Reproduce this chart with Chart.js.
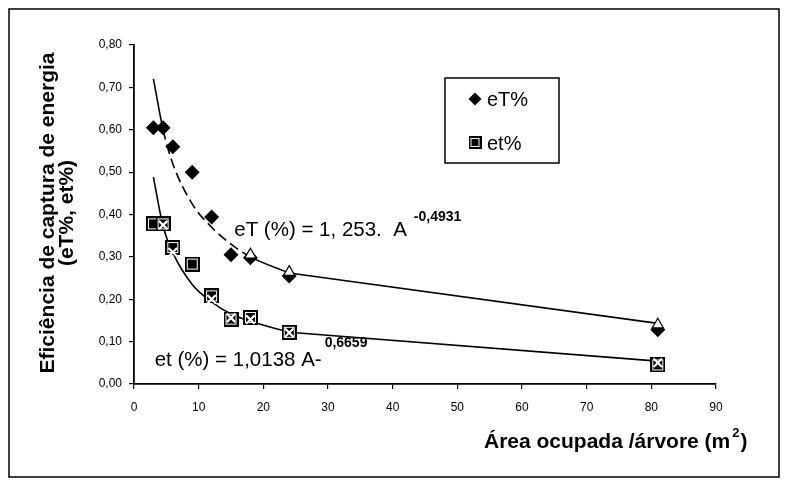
<!DOCTYPE html>
<html>
<head>
<meta charset="utf-8">
<script src="https://cdn.jsdelivr.net/npm/chart.js@4.4.1/dist/chart.umd.min.js"></script>
<style>
  html, body { margin: 0; padding: 0; background: #fff; }
  #chart { display: block; }
</style>
</head>
<body>
<canvas id="chart" width="788" height="486"></canvas>
<script>
// area per tree (m2)
var areas = [3, 4.5, 6, 9, 12, 15, 18, 24, 81];
// measured values
var eT_obs = [0.605, 0.605, 0.56, 0.50, 0.394, 0.305, 0.298, 0.255, 0.128];
var et_obs = [0.378, 0.378, 0.322, 0.283, 0.208, 0.153, 0.157, 0.122, 0.045];
// fitted curves
var eT_fit = [0.72, 0.60, 0.52, 0.425, 0.37, 0.33, 0.30, 0.262, 0.143];
var et_fit = [0.488, 0.372, 0.31, 0.235, 0.194, 0.165, 0.148, 0.122, 0.054];
// open markers on the fitted curves
var eT_markX = [18, 24, 81];
var eT_markY = [0.305, 0.264, 0.14];
var et_markX = [4.5, 6, 12, 15, 18, 24, 81];
var et_markY = [0.375, 0.311, 0.20, 0.156, 0.152, 0.121, 0.05];

var yTicks = ["0,00", "0,10", "0,20", "0,30", "0,40", "0,50", "0,60", "0,70", "0,80"];
var xTicks = ["0", "10", "20", "30", "40", "50", "60", "70", "80", "90"];

var FONT = '"Liberation Sans", Arial, sans-serif';

function pts(xs, ys) {
  return xs.map(function (x, i) { return { x: x, y: ys[i] }; });
}

// black square marker with the thin white inner edge
function squareMarker(size) {
  var c = document.createElement("canvas");
  c.width = size; c.height = size;
  var g = c.getContext("2d");
  g.fillStyle = "#000";
  g.fillRect(0, 0, size, size);
  g.strokeStyle = "#fff";
  g.lineWidth = 1;
  g.strokeRect(2.5, 2.5, size - 5, size - 5);
  g.fillRect(3.5, 3.5, size - 7, size - 7);
  return c;
}
var sq15 = squareMarker(15);
var sq13 = squareMarker(13);

var last = areas.length - 1;
var tailX = areas.slice(last - 1);

var extras = {
  id: "extras",
  afterDraw: function (chart) {
    var ctx = chart.ctx;
    var xs = chart.scales.x, ys = chart.scales.y;
    ctx.save();
    ctx.fillStyle = "#000";
    ctx.strokeStyle = "#000";

    // outer frame
    ctx.lineWidth = 1.5;
    ctx.strokeRect(9, 9, 770, 468);

    // legend
    ctx.lineWidth = 1.5;
    ctx.strokeRect(445, 78, 114, 85);
    ctx.beginPath();
    ctx.moveTo(475, 92.5); ctx.lineTo(481.5, 99); ctx.lineTo(475, 105.5); ctx.lineTo(468.5, 99);
    ctx.closePath(); ctx.fill();
    ctx.drawImage(sq13, 468.5, 136);
    ctx.font = "20px " + FONT;
    ctx.textBaseline = "middle";
    ctx.textAlign = "left";
    ctx.fillText("eT%", 487, 100);
    ctx.fillText("et%", 487, 144);

    // equations
    ctx.textBaseline = "alphabetic";
    ctx.font = "20.5px " + FONT;
    var ex = xs.getPixelForValue(15.5), ey = ys.getPixelForValue(0.35);
    var s1 = "eT (%) = 1, 253.  A";
    ctx.fillText(s1, ex, ey);
    var w1 = ctx.measureText(s1).width;
    ctx.font = "bold 14px " + FONT;
    ctx.fillText("-0,4931", ex + w1 + 7, ey - 15);

    ctx.font = "20.5px " + FONT;
    var fx = xs.getPixelForValue(3.2), fy = ys.getPixelForValue(0.043);
    var s2 = "et (%) = 1,0138 A-";
    ctx.fillText(s2, fx, fy);
    var w2 = ctx.measureText(s2).width;
    ctx.font = "bold 14px " + FONT;
    ctx.fillText("0,6659", fx + w2 + 3, fy - 19);

    // axis titles
    ctx.font = "bold 21px " + FONT;
    ctx.textAlign = "center";
    ctx.save();
    ctx.translate(54, 213);
    ctx.rotate(-Math.PI / 2);
    ctx.fillText("Eficiência de captura de energia", 0, 0);
    ctx.fillText("(eT%, et%)", 0, 19);
    ctx.restore();

    ctx.textAlign = "left";
    var t = "Área ocupada /árvore (m";
    var tw = ctx.measureText(t).width;
    var tx = 484, ty = 448;
    ctx.fillText(t, tx, ty);
    ctx.font = "bold 13px " + FONT;
    ctx.fillText("2", tx + tw + 2, ty - 11);
    var w2b = ctx.measureText("2").width;
    ctx.font = "bold 21px " + FONT;
    ctx.fillText(")", tx + tw + w2b + 3, ty);
    ctx.restore();
  }
};

new Chart(document.getElementById("chart"), {
  type: "scatter",
  data: {
    datasets: [
      {
        label: "eT fit",
        data: pts(areas.slice(0, last), eT_fit.slice(0, last)),
        showLine: true, borderColor: "#000", borderWidth: 1.6, pointRadius: 0,
        cubicInterpolationMode: "monotone",
        segment: {
          borderDash: function (c) {
            return (c.p0.parsed.x >= 4.5 && c.p1.parsed.x <= 18) ? [10, 5] : undefined;
          }
        },
        order: 6
      },
      {
        label: "eT fit tail",
        data: pts(tailX, eT_fit.slice(last - 1)),
        showLine: true, borderColor: "#000", borderWidth: 1.6, pointRadius: 0, order: 6
      },
      {
        label: "et fit",
        data: pts(areas.slice(0, last), et_fit.slice(0, last)),
        showLine: true, borderColor: "#000", borderWidth: 1.6, pointRadius: 0,
        cubicInterpolationMode: "monotone", order: 6
      },
      {
        label: "et fit tail",
        data: pts(tailX, et_fit.slice(last - 1)),
        showLine: true, borderColor: "#000", borderWidth: 1.6, pointRadius: 0, order: 6
      },
      {
        label: "eT%",
        data: pts(areas, eT_obs),
        pointStyle: "rectRot", pointRadius: 7.5, backgroundColor: "#000", borderColor: "#000",
        borderWidth: 0, order: 4
      },
      {
        label: "et%",
        data: pts(areas, et_obs),
        pointStyle: sq15, order: 4
      },
      {
        label: "eT marks",
        data: pts(eT_markX, eT_markY),
        pointStyle: "triangle", pointRadius: 6.5, backgroundColor: "#fff", borderColor: "#000",
        borderWidth: 1.2, order: 2
      },
      {
        label: "et marks",
        data: pts(et_markX, et_markY),
        pointStyle: "crossRot", pointRadius: 6, borderColor: "#fff", borderWidth: 2.2, order: 1
      }
    ]
  },
  options: {
    responsive: false,
    animation: false,
    events: [],
    layout: { padding: { left: 0, right: 72, top: 45, bottom: 0 } },
    plugins: { legend: { display: false }, tooltip: { enabled: false } },
    scales: {
      x: {
        type: "linear", min: 0, max: 90,
        afterFit: function (s) { s.height = 102; },
        afterBuildTicks: function (s) {
          s.ticks = xTicks.map(function (v) { return { value: Number(v) }; });
        },
        ticks: {
          color: "#000", font: { family: FONT, size: 12 }, padding: 11, maxRotation: 0,
          callback: function (v, i) { return xTicks[i]; }
        },
        grid: { drawOnChartArea: false, drawTicks: true, tickLength: 5, color: "#000", lineWidth: 1.2 },
        border: { color: "#000", width: 1.8 }
      },
      y: {
        type: "linear", min: 0, max: 0.8,
        afterFit: function (s) { s.width = 134; },
        afterBuildTicks: function (s) {
          s.ticks = yTicks.map(function (v) { return { value: Number(v.replace(",", ".")) }; });
        },
        ticks: {
          color: "#000", font: { family: FONT, size: 12 }, padding: 7,
          callback: function (v, i) { return yTicks[i]; }
        },
        grid: { drawOnChartArea: false, drawTicks: true, tickLength: 5, color: "#000", lineWidth: 1.2 },
        border: { color: "#000", width: 1.8 }
      }
    }
  },
  plugins: [extras]
});
</script>
</body>
</html>
